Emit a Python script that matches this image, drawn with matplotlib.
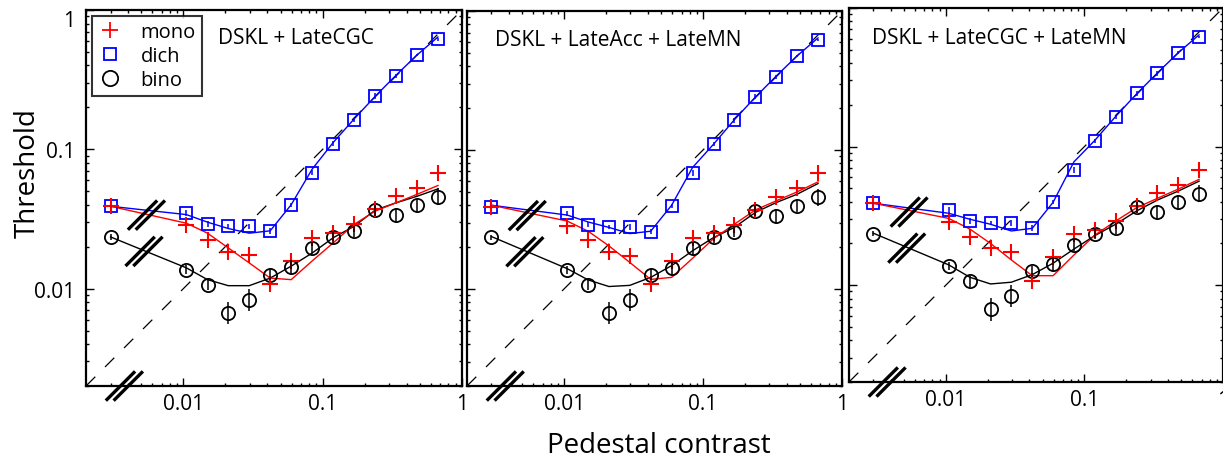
import numpy as np
import matplotlib
matplotlib.use('Agg')
import matplotlib.pyplot as plt
from matplotlib.lines import Line2D
from matplotlib.ticker import LogLocator, NullFormatter, FixedLocator, FixedFormatter

plt.rcParams['font.family'] = ['Open Sans', 'DejaVu Sans']

# pedestal contrasts (first point is zero pedestal, plotted at 0.003)
pedestal = [0.003, 0.0105, 0.0149, 0.021, 0.0297, 0.042, 0.0594, 0.084,
            0.119, 0.168, 0.238, 0.336, 0.475, 0.672]

# measured thresholds
mono = [0.039, 0.0285, 0.0223, 0.0184, 0.0173, 0.0108, 0.0159, 0.0232,
        0.0251, 0.0289, 0.037, 0.0462, 0.053, 0.068]
dich = [0.039, 0.035, 0.029, 0.028, 0.028, 0.0258, 0.0396, 0.068,
        0.110, 0.163, 0.242, 0.337, 0.475, 0.618]
bino = [0.0235, 0.0137, 0.0107, 0.00668, 0.00833, 0.0126, 0.0142, 0.0196,
        0.0235, 0.0258, 0.0366, 0.0335, 0.0396, 0.0457]

# error bar half-lengths (log10 units)
mono_err = [0.01, 0.02, 0.03, 0.04, 0.03, 0.03, 0.03, 0.03, 0.03, 0.03, 0.02, 0.03, 0.03, 0.02]
dich_err = [0.01, 0.02, 0.02, 0.015, 0.02, 0.02, 0.015, 0.02, 0.015, 0.015, 0.02, 0.015, 0.01, 0.01]
bino_err = [0.02, 0.03, 0.04, 0.08, 0.08, 0.04, 0.05, 0.045, 0.04, 0.04, 0.04, 0.05, 0.045, 0.06]

# model fits, one set per panel
titles = ['DSKL + LateCGC', 'DSKL + LateAcc + LateMN', 'DSKL + LateCGC + LateMN']
mono_fit = [
    [0.039, 0.0295, 0.025, 0.0196, 0.0153, 0.0119, 0.0116, 0.0158, 0.0213, 0.0289, 0.036, 0.0413, 0.0475, 0.055],
    [0.040, 0.0308, 0.026, 0.0204, 0.0155, 0.0117, 0.0121, 0.0166, 0.023, 0.0292, 0.037, 0.043, 0.0499, 0.0589],
    [0.039, 0.0303, 0.0254, 0.020, 0.0152, 0.0117, 0.0117, 0.0165, 0.023, 0.029, 0.0362, 0.0423, 0.0493, 0.058],
]
dich_fit = [
    [0.039, 0.034, 0.030, 0.027, 0.025, 0.026, 0.040, 0.072, 0.112, 0.165, 0.24, 0.34, 0.475, 0.64],
    [0.040, 0.034, 0.0303, 0.0277, 0.025, 0.026, 0.040, 0.0747, 0.11, 0.165, 0.24, 0.34, 0.475, 0.64],
    [0.039, 0.033, 0.0299, 0.0275, 0.0246, 0.0257, 0.0396, 0.0776, 0.111, 0.165, 0.24, 0.34, 0.475, 0.64],
]
bino_fit = [
    [0.0235, 0.0141, 0.0116, 0.0105, 0.0105, 0.0119, 0.0145, 0.018, 0.0232, 0.028, 0.0366, 0.0413, 0.046, 0.052],
    [0.0238, 0.014, 0.0116, 0.0104, 0.0106, 0.0121, 0.0147, 0.0188, 0.0234, 0.0277, 0.0355, 0.0418, 0.048, 0.0573],
    [0.0237, 0.014, 0.0114, 0.0102, 0.0105, 0.0119, 0.0144, 0.0182, 0.0228, 0.0275, 0.0343, 0.0411, 0.0477, 0.0563],
]

lim = (0.002, 1)
W, H = 1223, 464
# axes boxes in pixels: left, top, size
boxes = [(86, 11, 376), (467, 12, 375), (849, 9, 374)]
title_off = [(132, 28), (28, 28), (23, 30)]

fig = plt.figure(figsize=(W / 100, H / 100), dpi=100)


def break_mark(ax, xc, yc, clip=True):
    # two short parallel slashes in log space (about 15 px half length)
    d, s = 0.105, 0.028
    for k in (-1, 1):
        ax.plot([xc * 10 ** (-d + k * s), xc * 10 ** (d + k * s)],
                [yc * 10 ** (-d), yc * 10 ** d],
                color='black', lw=2.4, clip_on=clip, zorder=6,
                solid_capstyle='butt')


def errbars(ax, x, y, e, color):
    y = np.array(y)
    e = np.array(e)
    ax.vlines(x, y * 10 ** (-e), y * 10 ** e, color=color, lw=1.1, zorder=5)


for i, (l, t, sz) in enumerate(boxes):
    ax = fig.add_axes([l / W, (H - t - sz) / H, sz / W, sz / H])
    ax.set_xscale('log')
    ax.set_yscale('log')
    ax.set_xlim(lim)
    ax.set_ylim(lim)

    ax.plot(lim, lim, color='black', lw=0.9, dashes=(10.5, 11), zorder=1)

    ax.plot(pedestal, dich_fit[i], color='blue', lw=1.0, zorder=2)
    ax.plot(pedestal, bino_fit[i], color='black', lw=1.0, zorder=2)
    ax.plot(pedestal, mono_fit[i], color='red', lw=1.0, zorder=2)

    ax.plot(pedestal, dich, 's', ms=8, mfc='none', mec='blue', mew=1.3, zorder=4)
    ax.plot(pedestal, bino, 'o', ms=9.5, mfc='none', mec='black', mew=1.3, zorder=4)
    ax.plot(pedestal, mono, '+', ms=11, mec='red', mew=1.5, zorder=4)
    errbars(ax, pedestal, dich, dich_err, 'blue')
    errbars(ax, pedestal, mono, mono_err, 'red')
    errbars(ax, pedestal, bino, bino_err, 'black')

    break_mark(ax, 0.00543, 0.0337)
    break_mark(ax, 0.00522, 0.0185)
    break_mark(ax, 0.00377, 0.002, clip=False)

    for sp in ax.spines.values():
        sp.set_linewidth(1.6)

    ax.xaxis.set_major_locator(FixedLocator([0.01, 0.1, 1]))
    ax.xaxis.set_major_formatter(FixedFormatter(['0.01', '0.1', '1']))
    ax.yaxis.set_major_locator(FixedLocator([0.01, 0.1, 1]))
    ax.yaxis.set_major_formatter(FixedFormatter(['0.01', '0.1', '1']))
    for axis in (ax.xaxis, ax.yaxis):
        axis.set_minor_locator(LogLocator(base=10, subs=np.arange(2, 10), numticks=20))
        axis.set_minor_formatter(NullFormatter())
    ax.tick_params(which='both', direction='in', top=True, right=True,
                   labelsize=15, width=1.0)
    ax.tick_params(which='major', length=5.5)
    ax.tick_params(which='minor', length=2.5)
    ax.tick_params(axis='x', pad=5)
    ax.tick_params(axis='y', pad=8)
    if i > 0:
        ax.tick_params(axis='y', labelleft=False)
    else:
        # the top label "1" sits a little below the corner
        ax.get_yticklabels()[-1].set_va('top')

    ox, oy = title_off[i]
    ax.text(ox / sz, 1 - oy / sz, titles[i], transform=ax.transAxes,
            fontsize=15, ha='left', va='center')

    if i == 0:
        handles = [Line2D([], [], ls='none', marker='+', ms=12, mec='red', mew=1.3),
                   Line2D([], [], ls='none', marker='s', ms=9, mfc='none', mec='blue', mew=1.3),
                   Line2D([], [], ls='none', marker='o', ms=11, mfc='none', mec='black', mew=1.3)]
        leg = ax.legend(handles, ['mono', 'dich', 'bino'], loc='upper left',
                        fontsize=14.5, frameon=True, fancybox=False,
                        borderaxespad=0.3, handlelength=1.2, handletextpad=0.9,
                        labelspacing=0.2, borderpad=0.3)
        leg.get_frame().set_edgecolor('black')
        leg.get_frame().set_linewidth(1.5)

fig.text(28 / W, 1 - 173 / H, 'Threshold', rotation=90, fontsize=20,
         ha='center', va='center')
fig.text(659 / W, 1 - 446 / H, 'Pedestal contrast', fontsize=20,
         ha='center', va='center')

fig.savefig('out.png', dpi=100)
